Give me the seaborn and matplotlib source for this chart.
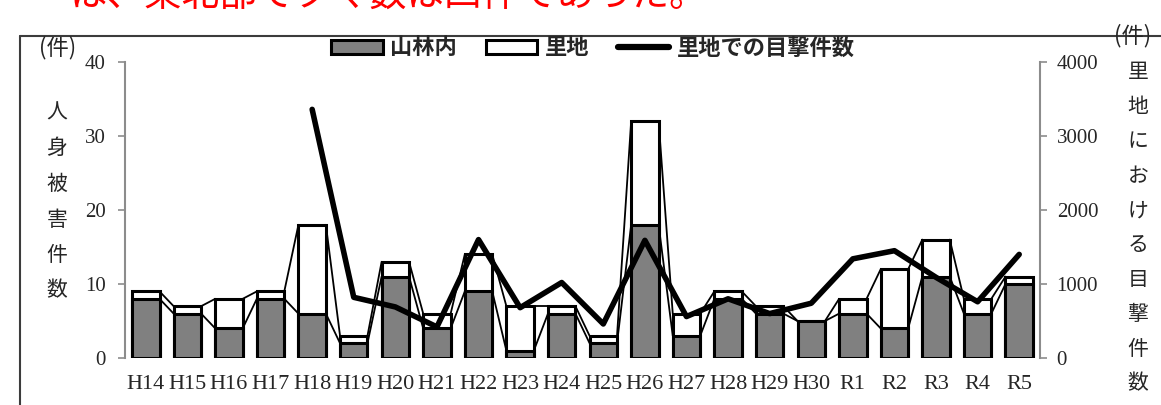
import numpy as np
import pandas as pd
import seaborn as sns
import matplotlib.pyplot as plt
from matplotlib.lines import Line2D
from matplotlib.patches import Patch

years = ["H14", "H15", "H16", "H17", "H18", "H19", "H20", "H21", "H22", "H23", "H24",
         "H25", "H26", "H27", "H28", "H29", "H30", "R1", "R2", "R3", "R4", "R5"]
sanrin = [8, 6, 4, 8, 6, 2, 11, 4, 9, 1, 6, 2, 18, 3, 8, 6, 5, 6, 4, 11, 6, 10]
satochi = [1, 1, 4, 1, 12, 1, 2, 2, 5, 6, 1, 1, 14, 3, 1, 1, 0, 2, 8, 5, 2, 1]
sighting_years = ["H18", "H19", "H20", "H21", "H22", "H23", "H24", "H25", "H26",
                  "H27", "H28", "H29", "H30", "R1", "R2", "R3", "R4", "R5"]
sightings = [3360, 820, 690, 420, 1600, 680, 1020, 460, 1590, 560, 800, 600,
             740, 1340, 1450, 1090, 760, 1400]

sns.set_style("white")
plt.rcParams["font.family"] = ["Liberation Serif", "Noto Sans CJK JP", "DejaVu Sans"]
CJK = ["Noto Sans CJK JP", "DejaVu Sans"]

df = pd.DataFrame({"year": years, "sanrin": sanrin, "satochi": satochi})
df["total"] = df["sanrin"] + df["satochi"]
line_df = pd.DataFrame({"x": [years.index(y) for y in sighting_years], "count": sightings})

fig = plt.figure(figsize=(11.61, 4.05), dpi=100)
ax = fig.add_axes([125 / 1161, 1 - 358 / 405, (1040 - 125) / 1161, (358 - 62) / 405])

bw = 0.66
sns.barplot(data=df, x="year", y="total", color="white", edgecolor="black",
            linewidth=2.2, width=bw, saturation=1, ax=ax, zorder=3)
sns.barplot(data=df, x="year", y="sanrin", color="#808080", edgecolor="black",
            linewidth=2.2, width=bw, saturation=1, ax=ax, zorder=4)

# series lines between neighbouring bars (Excel style)
for col in ["sanrin", "total"]:
    v = df[col].to_numpy()
    for i in range(len(v) - 1):
        ax.plot([i + bw / 2, i + 1 - bw / 2], [v[i], v[i + 1]], color="black",
                lw=1.3, zorder=2)

ax.set_xlim(-0.5, len(years) - 0.5)
ax.set_ylim(0, 40)
ax.set_yticks([0, 10, 20, 30, 40])
ax.set_xlabel("")
ax.set_ylabel("")
for s in ["top", "right", "bottom"]:
    ax.spines[s].set_visible(False)
ax.spines["left"].set_color("#8c8c8c")
ax.spines["left"].set_linewidth(1.5)
ax.tick_params(axis="y", direction="out", length=5, width=1.2, color="#8c8c8c",
               pad=9, labelsize=15)
ax.tick_params(axis="x", length=0, pad=12, labelsize=16)

ax2 = ax.twinx()
sns.lineplot(data=line_df, x="x", y="count", color="black", lw=4, ax=ax2, zorder=5)
ax2.set_ylim(0, 4000)
ax2.set_yticks([0, 1000, 2000, 3000, 4000])
ax2.set_ylabel("")
ax2.set_xlabel("")
for s in ["top", "left", "bottom"]:
    ax2.spines[s].set_visible(False)
ax2.spines["right"].set_color("#8c8c8c")
ax2.spines["right"].set_linewidth(1.5)
ax2.tick_params(axis="y", direction="out", length=5, width=1.2, color="#8c8c8c",
                pad=7, labelsize=15)
ax2.set_xlim(-0.5, len(years) - 0.5)

# legend
handles = [Patch(facecolor="#808080", edgecolor="black", linewidth=2.2),
           Patch(facecolor="white", edgecolor="black", linewidth=2.2),
           Line2D([0], [0], color="black", lw=4.5)]
fig.legend(handles, ["山林内", "里地", "里地での目撃件数"], loc="center",
           bbox_to_anchor=(0.511, 1 - 48 / 405), ncol=3, frameon=False,
           prop={"family": CJK, "weight": "bold", "size": 16},
           handlelength=2.3, handleheight=0.6, handletextpad=0.35, columnspacing=1.3)

# axis labels
fig.text(58 / 1161, 1 - 48 / 405, "(件)", ha="center", va="center", fontsize=16,
         family=CJK)
for k, ch in enumerate("人身被害件数"):
    fig.text(57 / 1161, 1 - (113 + 35.5 * k) / 405, ch, ha="center", va="center",
             fontsize=15, family=CJK)
fig.text(1133 / 1161, 1 - 36 / 405, "(件)", ha="center", va="center", fontsize=16,
         family=CJK)
for k, ch in enumerate("里地における目撃件数"):
    fig.text(1138 / 1161, 1 - (72 + 34.6 * k) / 405, ch, ha="center", va="center",
             fontsize=15, family=CJK)

# outer frame of the chart area
fig.add_artist(Line2D([20 / 1161, 1], [1 - 36 / 405, 1 - 36 / 405],
                      transform=fig.transFigure, color="#3c3c3c", lw=1.5))
fig.add_artist(Line2D([20 / 1161, 20 / 1161], [0, 1 - 36 / 405],
                      transform=fig.transFigure, color="#3c3c3c", lw=1.5))

# clipped line of body text above the chart
fig.text(70 / 1161, 1 - 6 / 405, "は、東北部でクマ数は四件であった。", ha="left",
         va="baseline", fontsize=27, color="red", family=CJK)

fig.savefig("out.png", dpi=100)
